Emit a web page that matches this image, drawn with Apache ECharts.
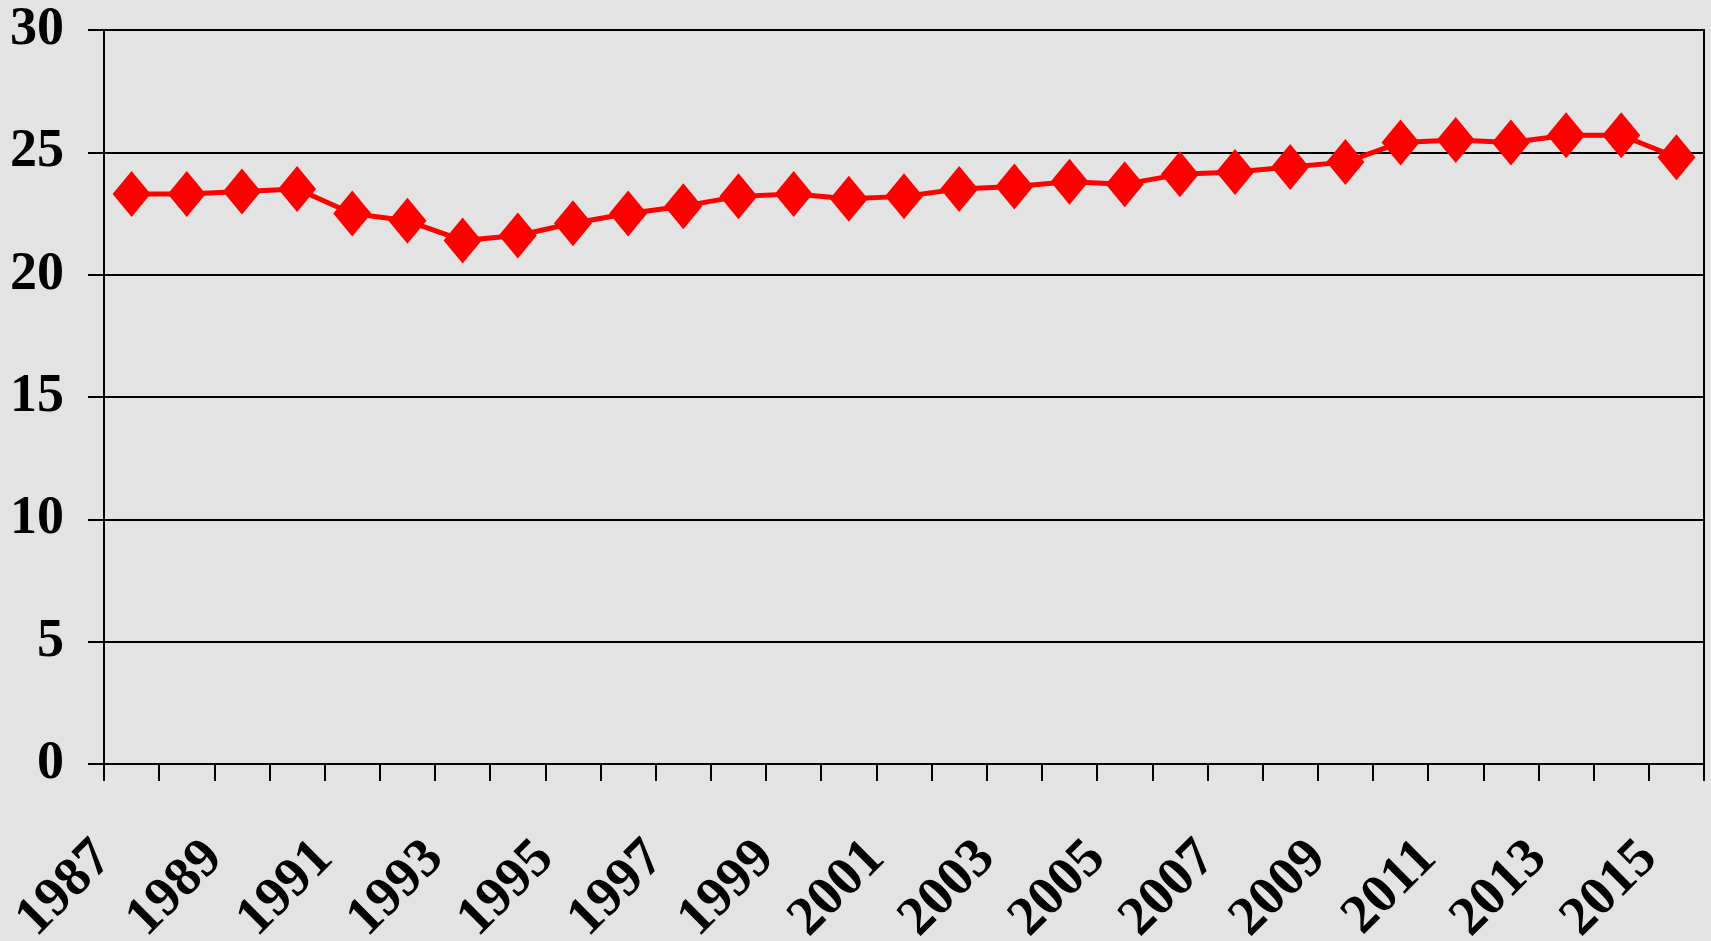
<!DOCTYPE html>
<html>
<head>
<meta charset="utf-8">
<script src="https://cdn.jsdelivr.net/npm/echarts@6/dist/echarts.min.js"></script>
<style>
  html, body { margin: 0; padding: 0; background: #e3e3e3; }
  #chart { width: 1711px; height: 941px; }
</style>
</head>
<body>
<div id="chart"></div>
<script>
// Yearly values, 1987 to 2015
const years = ['1987','1988','1989','1990','1991','1992','1993','1994','1995','1996',
  '1997','1998','1999','2000','2001','2002','2003','2004','2005','2006',
  '2007','2008','2009','2010','2011','2012','2013','2014','2015'];
const values = [23.3, 23.3, 23.4, 23.5, 22.5, 22.2, 21.4, 21.6, 22.1, 22.5,
  22.8, 23.2, 23.3, 23.1, 23.2, 23.5, 23.6, 23.8, 23.7, 24.1,
  24.2, 24.4, 24.6, 25.4, 25.5, 25.4, 25.7, 25.7, 24.8];
// Year labels sit on the tick boundaries (one more boundary than categories)
const tickYears = ['1987','1988','1989','1990','1991','1992','1993','1994','1995','1996',
  '1997','1998','1999','2000','2001','2002','2003','2004','2005','2006',
  '2007','2008','2009','2010','2011','2012','2013','2014','2015','2016'];

const font = 'Liberation Serif, Times New Roman, serif';
const chart = echarts.init(document.getElementById('chart'));
chart.setOption({
  backgroundColor: '#e3e3e3',
  animation: false,
  grid: {
    left: 104, right: 7, top: 30, bottom: 177,
    containLabel: false,
    outerBoundsMode: 'none',
    show: true, borderColor: '#000', borderWidth: 2, backgroundColor: 'transparent'
  },
  xAxis: [
    {
      type: 'category',
      data: years,
      boundaryGap: true,
      axisLine: { lineStyle: { color: '#000', width: 2 } },
      axisTick: { show: false },
      axisLabel: { show: false },
      splitLine: { show: false }
    },
    {
      type: 'category',
      data: tickYears,
      boundaryGap: false,
      position: 'bottom',
      axisLine: { show: false },
      axisTick: { show: true, interval: 0, length: 17, lineStyle: { color: '#000', width: 2 } },
      axisLabel: {
        interval: 1,
        rotate: 45,
        margin: 86,
        color: '#000',
        fontFamily: font,
        fontWeight: 'bold',
        fontSize: 55,
        formatter: function (v, i) { return i < years.length ? v : ''; }
      },
      splitLine: { show: false }
    }
  ],
  yAxis: {
    type: 'value',
    min: 0, max: 30, interval: 5,
    axisLine: { show: true, lineStyle: { color: '#000', width: 2 } },
    axisTick: { show: true, length: 16, lineStyle: { color: '#000', width: 2 } },
    axisLabel: {
      margin: 40,
      color: '#000',
      fontFamily: font,
      fontWeight: 'bold',
      fontSize: 54
    },
    splitLine: { lineStyle: { color: '#000', width: 2 } }
  },
  series: [{
    type: 'line',
    xAxisIndex: 0,
    data: values,
    symbol: 'diamond',
    symbolSize: [38, 46],
    showSymbol: true,
    showAllSymbol: true,
    itemStyle: { color: '#ff0000' },
    lineStyle: { color: '#ff0000', width: 5 }
  }]
});
</script>
</body>
</html>
